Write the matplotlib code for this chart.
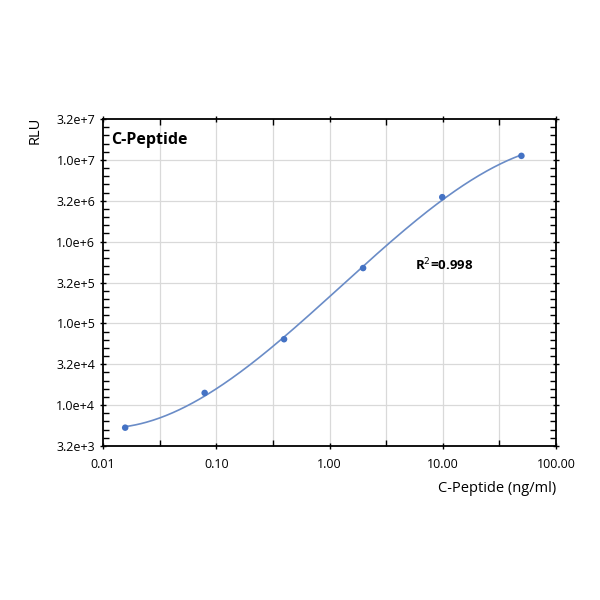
import numpy as np
import matplotlib
matplotlib.use("Agg")
import matplotlib.pyplot as plt
from matplotlib.ticker import FixedLocator, FixedFormatter, NullFormatter

plt.rcParams['font.family'] = ['Open Sans', 'DejaVu Sans']

# Data
conc = [0.0157, 0.079, 0.397, 1.98, 9.9, 49.5]
rlu = [5300, 14100, 64000, 475000, 3.5e6, 1.12e7]
x_ticks = [0.01, 0.1, 1, 10, 100]
x_tick_labels = ["0.01", "0.10", "1.00", "10.00", "100.00"]
y_tick_labels = ["3.2e+3", "1.0e+4", "3.2e+4", "1.0e+5", "3.2e+5",
                 "1.0e+6", "3.2e+6", "1.0e+7", "3.2e+7"]
title_text = "C-Peptide"
r2_text = "R$^2$=0.998"
x_label = "C-Peptide (ng/ml)"
y_label = "RLU"

fig = plt.figure(figsize=(6, 6), dpi=100)
ax = fig.add_axes([103/600, 1 - 446/600, 453/600, 327/600])
ax.set_xscale('log')
ax.set_yscale('log')
ax.set_xlim(0.01, 100)
ax.set_ylim(10**3.5, 10**7.5)

# fitted curve (cubic in log-log space, fit from the data)
lx = np.log10(conc)
ly = np.log10(rlu)
coef = np.polyfit(lx, ly, 3)
xs = np.linspace(lx[0], lx[-1], 300)
ax.plot(10**xs, 10**np.polyval(coef, xs), color='#6a8cc7', lw=1.2, zorder=3)
ax.scatter(conc, rlu, s=22, color='#4472c4', zorder=4, edgecolors='none')

# half-decade positions
y_ticks = [10**(v/2) for v in range(7, 16)]
gx = [10**(v/2) for v in range(-4, 5)]
for g in gx[1:-1]:
    ax.axvline(g, color='#d9d9d9', lw=0.9, zorder=1)
for g in y_ticks[1:-1]:
    ax.axhline(g, color='#d9d9d9', lw=0.9, zorder=1)

# ticks
ax.xaxis.set_major_locator(FixedLocator(x_ticks))
ax.xaxis.set_major_formatter(FixedFormatter(x_tick_labels))
ax.xaxis.set_minor_locator(FixedLocator([10**(v/2) for v in range(-3, 4, 2)]))
ax.xaxis.set_minor_formatter(NullFormatter())
ax.yaxis.set_major_locator(FixedLocator(y_ticks))
ax.yaxis.set_major_formatter(FixedFormatter(y_tick_labels))
ymin = [10**(3.5 + k*0.1) for k in range(41) if k % 5 != 0]
ax.yaxis.set_minor_locator(FixedLocator(ymin))
ax.yaxis.set_minor_formatter(NullFormatter())
ax.tick_params(axis='both', which='major', direction='out', length=5, width=1,
               labelsize=9, colors='black', pad=3)
ax.tick_params(axis='x', which='minor', direction='in', length=4, width=1,
               top=True, bottom=True)
ax.tick_params(axis='y', which='minor', direction='in', length=4, width=1,
               left=True, right=True)
ax.tick_params(axis='y', which='major', right=True, direction='inout')
ax.tick_params(axis='x', which='major', top=True, direction='inout')
ax.tick_params(axis='x', which='major', pad=6)
for s in ax.spines.values():
    s.set_color('black')
    s.set_linewidth(1.3)

ax.text(0.018, 0.935, title_text, transform=ax.transAxes, fontsize=11.5,
        fontweight='bold', ha='left', va='center')
ax.text(0.688, 0.555, r2_text, transform=ax.transAxes, fontsize=9.5,
        fontweight='bold', ha='left', va='center')

fig.text(556/600, 1 - 488/600, x_label, ha='right', va='center', fontsize=10.5)
fig.text(35/600, 1 - 130/600, y_label, ha='center', va='center', rotation=90,
         fontsize=10.5)

fig.savefig('out.png', dpi=100)
